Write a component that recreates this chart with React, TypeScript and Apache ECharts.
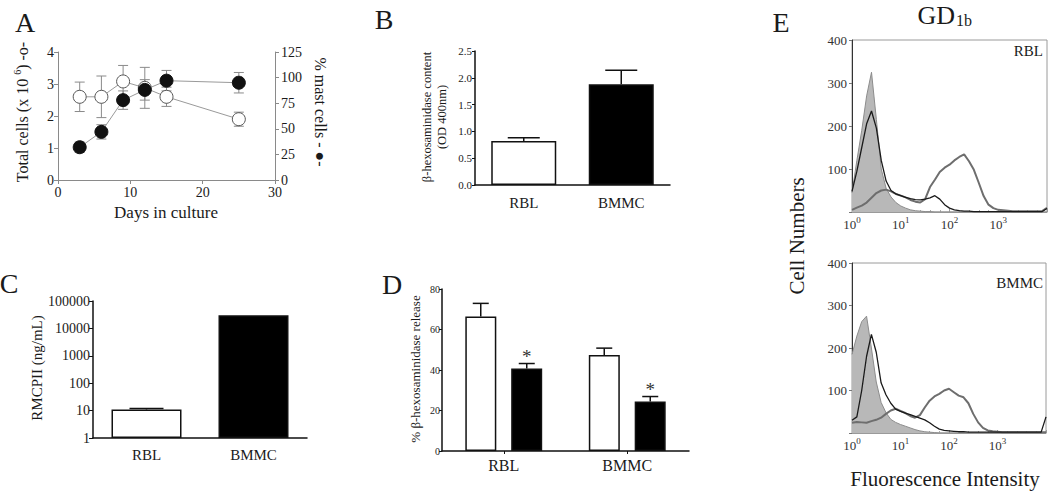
import React, { useEffect, useRef } from "react";
import * as echarts from "echarts";

const FONT = '"Liberation Serif", "Times New Roman", serif';

// ---------- Panel A ----------
const daysInCulture = [3, 6, 9, 12, 15, 25];
const totalCells = [2.6, 2.6, 3.08, 2.88, 2.6, 1.9];
const totalCellsSem = [0.46, 0.65, 0.5, 0.64, 0.3, 0.22];
const mastCellPct = [32, 47, 78, 88, 97, 95];
const mastCellPctSem = [5, 7, 9, 10, 10, 10];

// ---------- Panel B ----------
const cellTypes = ["RBL", "BMMC"];
const hexContent = [0.82, 1.88];
const hexContentSem = [0.06, 0.26];

// ---------- Panel C ----------
const rmcpii = [11, 30000];
const rmcpiiSem = [1, 0];

// ---------- Panel D ----------
const releaseControl = [66.4, 47.4];
const releaseControlSem = [6.5, 3.4];
const releaseTreated = [40.8, 24.4];
const releaseTreatedSem = [2.4, 2.5];
const releaseSignificant = [false, false];
const treatedSignificant = [true, true];

// ---------- Panel E (log10 fluorescence vs cell number) ----------
const logIntensity = [0, 0.1, 0.2, 0.3, 0.4, 0.5, 0.6, 0.7, 0.8, 0.9, 1, 1.1, 1.2, 1.3, 1.4, 1.5, 1.6, 1.7, 1.8, 1.9, 2, 2.1, 2.2, 2.3, 2.4, 2.5, 2.6, 2.7, 2.8, 2.9, 3, 3.1, 3.2, 3.3, 3.4, 3.5, 3.6, 3.7, 3.8, 3.9, 4];
const rblIsotype = [45, 120, 190, 270, 325, 215, 100, 55, 35, 22, 14, 9, 5, 3, 2, 1, 1, 0, 0, 0, 0, 0, 0, 0, 0, 0, 0, 0, 0, 0, 0, 0, 0, 0, 0, 0, 0, 0, 0, 0, 0];
const rblDark = [48, 95, 150, 205, 235, 195, 120, 72, 50, 42, 38, 34, 31, 29, 28, 30, 33, 38, 30, 17, 9, 5, 3, 2, 2, 1, 1, 1, 1, 1, 1, 1, 1, 1, 1, 1, 1, 1, 1, 1, 8];
const rblGD1b = [5, 10, 15, 22, 33, 44, 50, 52, 48, 42, 38, 34, 28, 24, 22, 30, 58, 75, 93, 103, 110, 120, 128, 134, 118, 98, 68, 37, 17, 9, 5, 4, 3, 2, 2, 2, 2, 2, 2, 2, 10];
const bmmcIsotype = [185, 228, 262, 275, 200, 120, 72, 48, 32, 25, 20, 16, 12, 8, 5, 3, 2, 1, 0, 0, 0, 0, 0, 0, 0, 0, 0, 0, 0, 0, 0, 0, 0, 0, 0, 0, 0, 0, 0, 0, 0];
const bmmcDark = [30, 38, 100, 180, 232, 190, 118, 90, 70, 56, 51, 47, 43, 39, 35, 31, 24, 16, 9, 6, 5, 4, 3, 3, 2, 2, 2, 2, 2, 2, 2, 2, 2, 2, 2, 2, 2, 2, 2, 2, 38];
const bmmcGD1b = [24, 26, 25, 24, 28, 31, 36, 45, 53, 57, 52, 47, 40, 36, 42, 60, 76, 86, 92, 100, 104, 96, 88, 84, 70, 45, 25, 12, 6, 4, 3, 2, 2, 2, 2, 2, 2, 2, 2, 2, 2];

const INK = "#1a1a1a";
const AXGRAY = "#8a8a8a";

const lbl = (size: number, extra: any = {}) => ({ fontFamily: FONT, fontSize: size, color: INK, ...extra });

function twoSidedErr(capHalf: number, color: string) {
  return (_p: any, api: any) => {
    const x = api.value(0), v = api.value(1), e = api.value(2);
    const lo = api.coord([x, v - e]);
    const hi = api.coord([x, v + e]);
    const st = { stroke: color, lineWidth: 1 };
    return {
      type: "group",
      children: [
        { type: "line", shape: { x1: lo[0], y1: lo[1], x2: hi[0], y2: hi[1] }, style: st },
        { type: "line", shape: { x1: lo[0] - capHalf, y1: lo[1], x2: lo[0] + capHalf, y2: lo[1] }, style: st },
        { type: "line", shape: { x1: hi[0] - capHalf, y1: hi[1], x2: hi[0] + capHalf, y2: hi[1] }, style: st },
      ],
    };
  };
}

function barErr(offset: number, capHalf: number, sig?: boolean[]) {
  return (params: any, api: any) => {
    const c = api.value(0), v = api.value(1), e = api.value(2);
    const base = api.coord([c, v]);
    const top = api.coord([c, v + e]);
    const x = base[0] + offset;
    const st = { stroke: "#111", lineWidth: 1.5 };
    const children: any[] = [];
    if (e > 0) {
      children.push({ type: "line", shape: { x1: x, y1: base[1], x2: x, y2: top[1] }, style: st });
      children.push({ type: "line", shape: { x1: x - capHalf, y1: top[1], x2: x + capHalf, y2: top[1] }, style: st });
    }
    if (sig && sig[params.dataIndex]) {
      children.push({
        type: "text",
        x,
        y: top[1] + 2,
        style: { text: "*", fontSize: 19, fontFamily: FONT, fill: "#333", align: "center", verticalAlign: "bottom", textAlign: "center", textVerticalAlign: "bottom" },
      });
    }
    return { type: "group", children };
  };
}

const pairs = (xs: number[], ys: number[]) => xs.map((x, i) => [x, ys[i]]);

function gText(text: string, x: number, y: number, size: number, rot = 0, extra: any = {}) {
  return {
    type: "text",
    x,
    y,
    rotation: rot,
    silent: true,
    style: {
      text,
      fontSize: size,
      fontFamily: FONT,
      fill: INK,
      align: "center",
      verticalAlign: "middle",
      textAlign: "center",
      textVerticalAlign: "middle",
      ...extra,
    },
  };
}

const decadeLabel = (v: number) => (v < 4 ? `{b|10}{s|${v}}` : "");

function eXAxis(gridIndex: number) {
  return {
    gridIndex,
    type: "value",
    min: 0,
    max: 4,
    interval: 1,
    axisLine: { show: true, lineStyle: { color: "#9a9a9a" } },
    axisTick: { show: true, inside: true, length: 3, lineStyle: { color: "#9a9a9a" } },
    minorTick: { show: true, splitNumber: 5, length: 2, lineStyle: { color: "#aaa" } },
    splitLine: { show: false },
    axisLabel: {
      margin: 3,
      formatter: decadeLabel,
      rich: {
        b: { fontFamily: FONT, fontSize: 13, color: "#333", lineHeight: 18 },
        s: { fontFamily: FONT, fontSize: 9, color: "#333", lineHeight: 8, verticalAlign: "top" },
      },
    },
  };
}

function eYAxis(gridIndex: number) {
  return {
    gridIndex,
    type: "value",
    min: 0,
    max: 400,
    interval: 100,
    axisLine: { show: true, lineStyle: { color: "#333" } },
    axisTick: { show: true, length: 3, lineStyle: { color: "#777" } },
    splitLine: { show: false },
    axisLabel: { ...lbl(13, { color: "#333" }), margin: 5, formatter: (v: number) => (v === 0 ? "" : String(v)) },
  };
}

function eSeries(xi: number, yi: number, iso: number[], dark: number[], gd: number[]) {
  return [
    {
      type: "line", xAxisIndex: xi, yAxisIndex: yi, symbol: "none", z: 1,
      data: pairs(logIntensity, iso),
      lineStyle: { color: "#8c8c8c", width: 1 },
      areaStyle: { color: "#b8b8b8", opacity: 1 },
    },
    {
      type: "line", xAxisIndex: xi, yAxisIndex: yi, symbol: "none", z: 2,
      data: pairs(logIntensity, gd),
      lineStyle: { color: "#6e6e6e", width: 2 },
    },
    {
      type: "line", xAxisIndex: xi, yAxisIndex: yi, symbol: "none", z: 3,
      data: pairs(logIntensity, dark),
      lineStyle: { color: "#1a1a1a", width: 1.3 },
    },
  ];
}

const blackLine = { show: true, lineStyle: { color: "#111", width: 1.5 } };

const option: any = {
  animation: false,
  backgroundColor: "#fff",
  grid: [
    { left: 58, top: 52, width: 217, height: 128 },
    { left: 475, top: 51, width: 195, height: 134 },
    { left: 93, top: 301, width: 214, height: 137 },
    { left: 442, top: 289, width: 247, height: 162 },
    { left: 852, top: 40, width: 195, height: 172, show: true, borderColor: "#9a9a9a", borderWidth: 1 },
    { left: 852, top: 263, width: 194, height: 170, show: true, borderColor: "#9a9a9a", borderWidth: 1 },
  ],
  xAxis: [
    {
      gridIndex: 0, type: "value", min: 0, max: 30, interval: 10,
      axisLine: { show: true, lineStyle: { color: AXGRAY } },
      axisTick: { show: true, length: 4, lineStyle: { color: AXGRAY } },
      splitLine: { show: false },
      axisLabel: { ...lbl(14), margin: 5 },
    },
    {
      gridIndex: 1, type: "category", data: cellTypes,
      axisLine: blackLine, axisTick: { show: false },
      axisLabel: { ...lbl(15), margin: 10 },
    },
    {
      gridIndex: 2, type: "category", data: cellTypes,
      axisLine: blackLine, axisTick: { show: false },
      axisLabel: { ...lbl(15), margin: 9 },
    },
    {
      gridIndex: 3, type: "category", data: cellTypes,
      axisLine: blackLine, axisTick: { show: true, alignWithLabel: true, length: 3, lineStyle: { color: "#111" } },
      axisLabel: { ...lbl(16), margin: 6 },
    },
    eXAxis(4),
    eXAxis(5),
  ],
  yAxis: [
    {
      gridIndex: 0, type: "value", min: 0, max: 4, interval: 1,
      axisLine: { show: true, lineStyle: { color: AXGRAY } },
      axisTick: { show: true, length: 4, lineStyle: { color: AXGRAY } },
      splitLine: { show: false },
      axisLabel: { ...lbl(14), margin: 4 },
    },
    {
      gridIndex: 0, type: "value", position: "right", min: 0, max: 125, interval: 25, alignTicks: false,
      axisLine: { show: true, lineStyle: { color: AXGRAY } },
      axisTick: { show: true, length: 4, lineStyle: { color: AXGRAY } },
      splitLine: { show: false },
      axisLabel: { ...lbl(14), margin: 6 },
    },
    {
      gridIndex: 1, type: "value", min: 0, max: 2.5, interval: 0.5,
      axisLine: blackLine,
      axisTick: { show: true, length: 3, lineStyle: { color: "#111" } },
      splitLine: { show: false },
      axisLabel: { ...lbl(11), margin: 3, formatter: (v: number) => v.toFixed(1) },
    },
    {
      gridIndex: 2, type: "log", logBase: 10, min: 1, max: 100000,
      axisLine: blackLine,
      axisTick: { show: true, length: 4, lineStyle: { color: "#111" } },
      splitLine: { show: false },
      minorTick: { show: false },
      axisLabel: { ...lbl(14), margin: 3, formatter: (v: number) => String(Math.round(v)) },
    },
    {
      gridIndex: 3, type: "value", min: 0, max: 80, interval: 20,
      axisLine: blackLine,
      axisTick: { show: true, length: 3, lineStyle: { color: "#111" } },
      splitLine: { show: false },
      axisLabel: { ...lbl(10), margin: 2 },
    },
    eYAxis(4),
    eYAxis(5),
  ],
  series: [
    // Panel A
    { type: "custom", xAxisIndex: 0, yAxisIndex: 0, z: 1, renderItem: twoSidedErr(5, AXGRAY),
      data: daysInCulture.map((d, i) => [d, totalCells[i], totalCellsSem[i]]) },
    { type: "custom", xAxisIndex: 0, yAxisIndex: 1, z: 1, renderItem: twoSidedErr(5, AXGRAY),
      data: daysInCulture.map((d, i) => [d, mastCellPct[i], mastCellPctSem[i]]) },
    { type: "line", xAxisIndex: 0, yAxisIndex: 0, z: 3, symbol: "circle", symbolSize: 13,
      data: pairs(daysInCulture, totalCells),
      lineStyle: { color: "#9a9a9a", width: 1 },
      itemStyle: { color: "#fff", borderColor: "#555", borderWidth: 1 } },
    { type: "line", xAxisIndex: 0, yAxisIndex: 1, z: 4, symbol: "circle", symbolSize: 13,
      data: pairs(daysInCulture, mastCellPct),
      lineStyle: { color: "#9a9a9a", width: 1 },
      itemStyle: { color: "#111", borderColor: "#111", borderWidth: 1 } },
    // Panel B
    { type: "bar", xAxisIndex: 1, yAxisIndex: 2, barWidth: 65,
      data: hexContent.map((v, i) => ({ value: v, itemStyle: { color: i === 0 ? "#fff" : "#000" } })),
      itemStyle: { borderColor: "#111", borderWidth: 1.5 } },
    { type: "custom", xAxisIndex: 1, yAxisIndex: 2, z: 3, renderItem: barErr(0, 16),
      data: hexContent.map((v, i) => [i, v, hexContentSem[i]]) },
    // Panel C
    { type: "bar", xAxisIndex: 2, yAxisIndex: 3, barWidth: 70,
      data: rmcpii.map((v, i) => ({ value: v, itemStyle: { color: i === 0 ? "#fff" : "#000" } })),
      itemStyle: { borderColor: "#111", borderWidth: 1.5 } },
    { type: "custom", xAxisIndex: 2, yAxisIndex: 3, z: 3, renderItem: barErr(0, 17),
      data: rmcpii.map((v, i) => [i, v, rmcpiiSem[i]]) },
    // Panel D
    { type: "bar", xAxisIndex: 3, yAxisIndex: 4, barWidth: 31, barGap: "48%",
      data: releaseControl, itemStyle: { color: "#fff", borderColor: "#111", borderWidth: 1.5 } },
    { type: "bar", xAxisIndex: 3, yAxisIndex: 4, barWidth: 31, barGap: "48%",
      data: releaseTreated, itemStyle: { color: "#000", borderColor: "#111", borderWidth: 1.5 } },
    { type: "custom", xAxisIndex: 3, yAxisIndex: 4, z: 3, renderItem: barErr(-23, 8, releaseSignificant),
      data: releaseControl.map((v, i) => [i, v, releaseControlSem[i]]) },
    { type: "custom", xAxisIndex: 3, yAxisIndex: 4, z: 3, renderItem: barErr(23, 8, treatedSignificant),
      data: releaseTreated.map((v, i) => [i, v, releaseTreatedSem[i]]) },
    // Panel E
    ...eSeries(4, 5, rblIsotype, rblDark, rblGD1b),
    ...eSeries(5, 6, bmmcIsotype, bmmcDark, bmmcGD1b),
  ],
  graphic: [
    gText("A", 25, 22, 28),
    gText("B", 384, 19, 28),
    gText("C", 9, 283, 28),
    gText("D", 392, 284, 28),
    gText("E", 781, 22, 28),
    {
      type: "text", x: 22, y: 112, rotation: Math.PI / 2, silent: true,
      style: {
        text: "{a|Total cells (x 10 }{s|6}{a|) -o-}",
        align: "center", verticalAlign: "middle", textAlign: "center", textVerticalAlign: "middle",
        rich: {
          a: { fontFamily: FONT, fontSize: 16, fill: INK, color: INK, lineHeight: 20 },
          s: { fontFamily: FONT, fontSize: 10, fill: INK, color: INK, lineHeight: 10, verticalAlign: "top" },
        },
      },
    },
    gText("% mast cells - \u25CF-", 320, 112, 16, -Math.PI / 2),
    gText("Days in culture", 166, 212, 17),
    gText("\u03B2-hexosaminidase content", 427, 117, 12.5, Math.PI / 2),
    gText("(OD 400nm)", 442, 117, 12.5, Math.PI / 2),
    gText("RMCPII (ng/mL)", 37, 368, 15, Math.PI / 2),
    gText("% \u03B2-hexosaminidase release", 415, 369, 13, Math.PI / 2),
    gText("GD", 955, 15, 26, 0, { align: "right", textAlign: "right" }),
    gText("1b", 956, 20, 16, 0, { align: "left", textAlign: "left" }),
    gText("RBL", 1043, 51, 15, 0, { align: "right", textAlign: "right" }),
    gText("BMMC", 1043, 283, 15, 0, { align: "right", textAlign: "right" }),
    gText("Cell Numbers", 797, 236, 21, Math.PI / 2),
    gText("Fluorescence Intensity", 945, 479, 21),
  ],
};

export default function App() {
  const ref = useRef<HTMLDivElement>(null);
  useEffect(() => {
    document.body.style.margin = "0";
    const chart = echarts.init(ref.current!, null, { renderer: "svg" });
    chart.setOption(option);
    return () => chart.dispose();
  }, []);
  return <div ref={ref} style={{ width: 1050, height: 492 }} />;
}
